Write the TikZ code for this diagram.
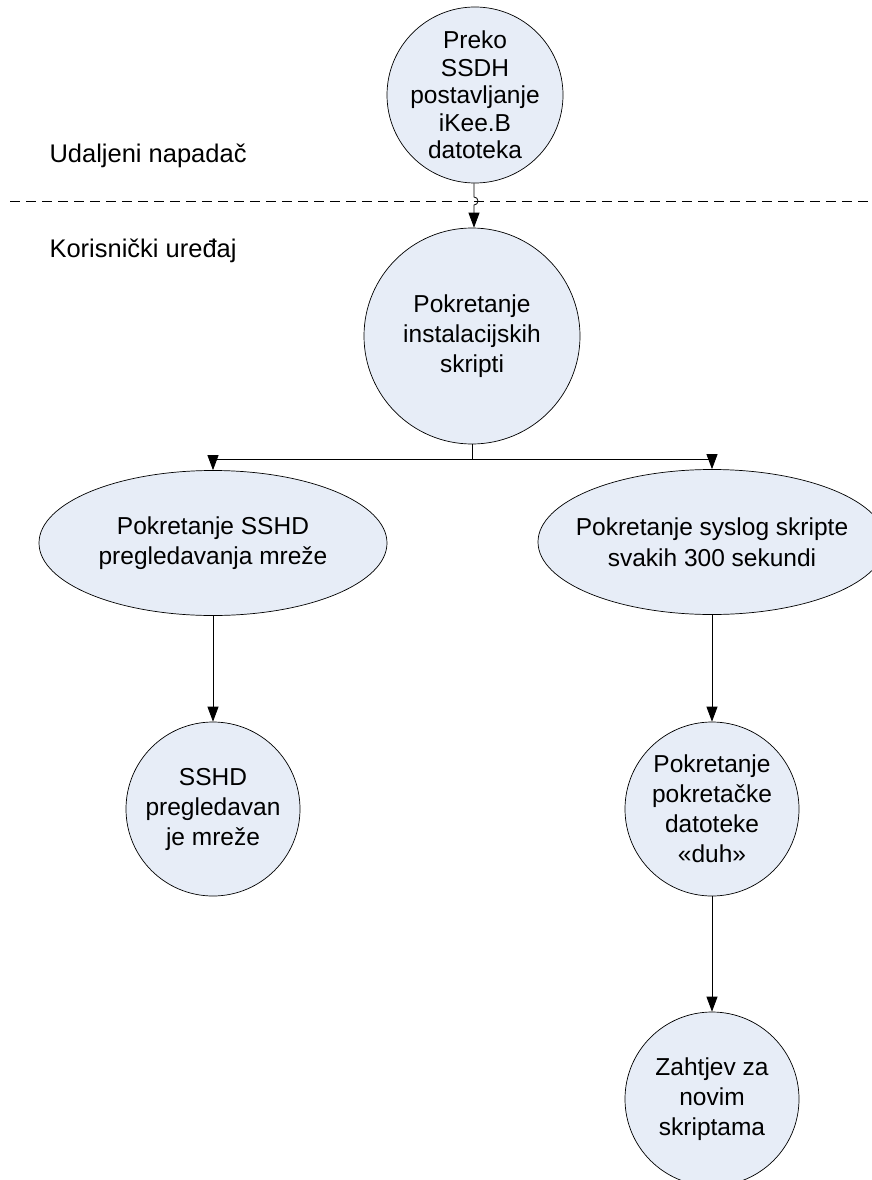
\documentclass[tikz,border=0pt]{standalone}
\usepackage{fontspec}
\setmainfont{Liberation Sans}
\usetikzlibrary{
  shapes.geometric,
  arrows.meta,
  positioning,
}
\definecolor{bubblefill}{RGB}{231,237,247}

\begin{document}
\begin{tikzpicture}[x=1pt,y=-1pt]
\tikzset{
  bubble/.style={
    circle, draw, fill=bubblefill, line width=0.7pt,
    inner sep=-4pt, align=center,
    font=\fontsize{24.5}{30}\selectfont,
  },
  oval/.style={
    ellipse, draw, fill=bubblefill, line width=0.7pt,
    inner xsep=-20pt, inner ysep=0pt, align=center,
    minimum width=348pt, minimum height=145pt,
    font=\fontsize{24.5}{30.5}\selectfont,
  },
  flow/.style={
    -{Triangle[length=15pt,width=11pt]}, line width=0.8pt,
  },
  zone/.style={
    anchor=base west, font=\fontsize{25.5}{30}\selectfont,
  },
  boundary/.style={
    line width=0.8pt, dash pattern=on 10pt off 6pt,
  },
}
\clip (0,0) rectangle (872,1180);
\fill[white] (0,0) rectangle (872,1180);

% zones
\coordinate (split west) at (10,201);
\coordinate (split east) at (872,201);
\draw[boundary] (split west) -- (split east);
\node[zone] (attacker) at (46,162) {Udaljeni napadač};
\node[zone] (device) at (46,257) {Korisnički uređaj};

% nodes
\node[bubble, minimum size=176pt, font=\fontsize{24.5}{27.5}\selectfont] (upload) at (475,95)
  {Preko\\SSDH\\postavljanje\\iKee.B\\datoteka};
\node[bubble, minimum size=216pt] (install) at (472,336)
  {Pokretanje\\instalacijskih\\skripti};
\node[oval] (scan) at (213,543) {Pokretanje SSHD\\pregledavanja mreže};
\node[oval] (syslog) at (712,542) {Pokretanje syslog skripte\\svakih 300 sekundi};
\node[bubble, minimum size=174pt] (sshd) at (213,809) {SSHD\\pregledavan\\je mreže};
\node[bubble, minimum size=174pt] (ghost) at (712,809)
  {Pokretanje\\pokretačke\\datoteke\\«duh»};
\node[bubble, minimum size=174pt] (request) at (712,1099)
  {Zahtjev za\\novim\\skriptama};

% connectors
\coordinate (hop) at (474,197);
\coordinate (fork) at (472,459);
\draw[flow] (upload.south -| hop) -- (hop)
  arc[start angle=-90, end angle=90, radius=4] -- (install.north -| hop);
\draw[line width=0.8pt] (install) -- (fork);
\draw[flow] (fork) -| (scan);
\draw[flow] (fork) -| (syslog);
\draw[flow] (scan) -- (sshd);
\draw[flow] (syslog) -- (ghost);
\draw[flow] (ghost) -- (request);
\end{tikzpicture}
\end{document}
